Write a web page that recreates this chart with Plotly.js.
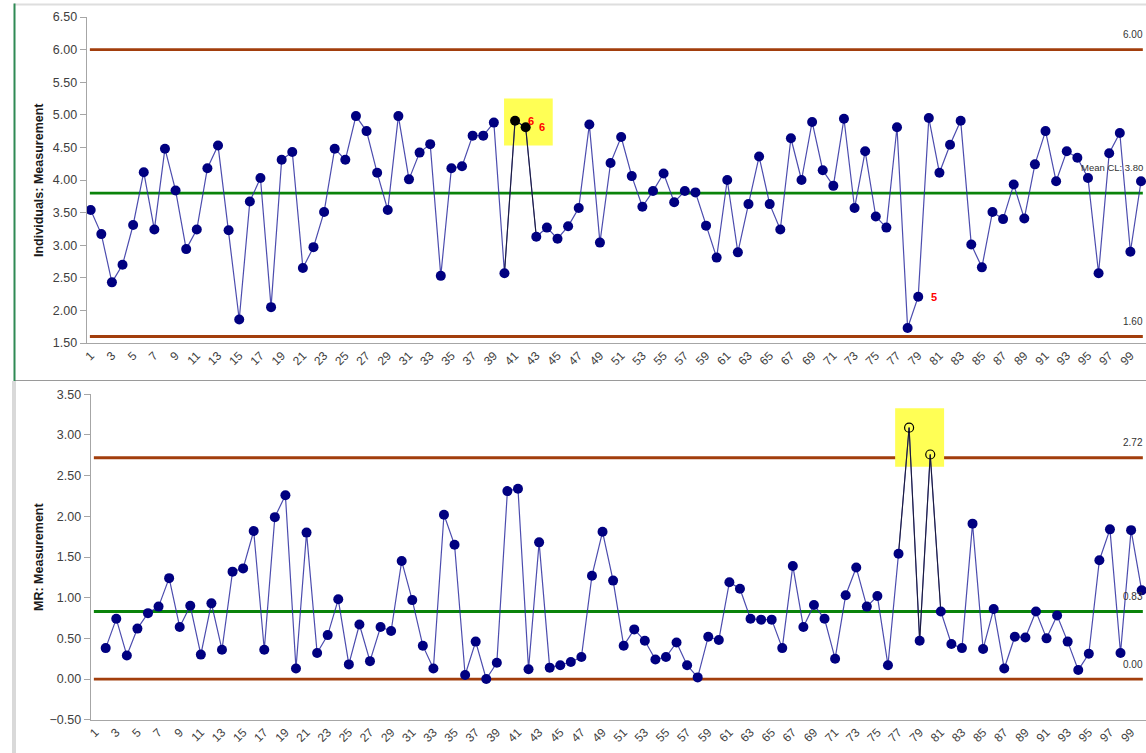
<!DOCTYPE html>
<html>
<head>
<meta charset="utf-8">
<script src="https://cdn.plot.ly/plotly-3.0.1.min.js"></script>
<style>
html,body{margin:0;padding:0;background:#fff;}
#chart{width:1146px;height:753px;}
</style>
</head>
<body>
<div id="chart"></div>
<script>
// ---------- data ----------
const obs = [1,2,3,4,5,6,7,8,9,10,11,12,13,14,15,16,17,18,19,20,21,22,23,24,25,26,27,28,29,30,
  31,32,33,34,35,36,37,38,39,40,41,42,43,44,45,46,47,48,49,50,51,52,53,54,55,56,57,58,59,60,
  61,62,63,64,65,66,67,68,69,70,71,72,73,74,75,76,77,78,79,80,81,82,83,84,85,86,87,88,89,90,
  91,92,93,94,95,96,97,98,99,100];
const individuals = [3.54,3.17,2.43,2.70,3.31,4.12,3.24,4.48,3.84,2.94,
  3.24,4.18,4.53,3.23,1.86,3.67,4.03,2.05,4.31,4.43,
  2.65,2.97,3.51,4.48,4.31,4.98,4.75,4.11,3.54,4.98,
  4.01,4.42,4.55,2.53,4.18,4.21,4.68,4.68,4.88,2.57,
  4.91,4.81,3.13,3.27,3.10,3.29,3.57,4.85,3.04,4.26,
  4.66,4.06,3.59,3.83,4.10,3.66,3.83,3.81,3.30,2.81,
  4.00,2.89,3.63,4.36,3.63,3.24,4.64,4.00,4.89,4.15,
  3.91,4.94,3.57,4.44,3.44,3.27,4.81,1.73,2.21,4.95,
  4.11,4.54,4.91,3.01,2.66,3.51,3.40,3.93,3.41,4.24,
  4.75,3.98,4.44,4.34,4.03,2.57,4.41,4.72,2.90,3.98];
const mrObs = [2,3,4,5,6,7,8,9,10,11,12,13,14,15,16,17,18,19,20,21,22,23,24,25,26,27,28,29,30,
  31,32,33,34,35,36,37,38,39,40,41,42,43,44,45,46,47,48,49,50,51,52,53,54,55,56,57,58,59,60,
  61,62,63,64,65,66,67,68,69,70,71,72,73,74,75,76,77,78,79,80,81,82,83,84,85,86,87,88,89,90,
  91,92,93,94,95,96,97,98,99,100];
const movingRange = [0.38,0.74,0.29,0.62,0.81,0.89,1.24,0.64,0.90,
  0.30,0.93,0.36,1.32,1.36,1.82,0.36,1.99,2.26,0.13,
  1.80,0.32,0.54,0.98,0.18,0.67,0.22,0.64,0.59,1.45,
  0.97,0.41,0.13,2.02,1.65,0.05,0.46,0.00,0.20,2.31,
  2.34,0.12,1.68,0.14,0.17,0.21,0.27,1.27,1.81,1.21,
  0.41,0.61,0.47,0.24,0.27,0.45,0.17,0.02,0.52,0.48,
  1.19,1.11,0.74,0.73,0.73,0.38,1.39,0.64,0.91,0.74,
  0.25,1.03,1.37,0.89,1.02,0.17,1.54,3.09,0.47,2.76,
  0.83,0.43,0.38,1.91,0.37,0.86,0.13,0.52,0.51,0.83,
  0.50,0.78,0.46,0.11,0.31,1.46,1.84,0.32,1.83,1.09];
const xTickVals = [1,3,5,7,9,11,13,15,17,19,21,23,25,27,29,31,33,35,37,39,41,43,45,47,49,
  51,53,55,57,59,61,63,65,67,69,71,73,75,77,79,81,83,85,87,89,91,93,95,97,99];
const xTickText = xTickVals.map(String);

const indUCL = 6.00, indCL = 3.80, indLCL = 1.60;
const mrUCL = 2.72, mrCL = 0.83, mrLCL = 0.00;

const indFlagObs = [41, 42, 79];
const indFlagRule = ['6', '6', '5'];
const indHighlightObs = [41, 42];
const mrHighlightObs = [78, 80];

// ---------- styles ----------
const FONT = 'Liberation Sans, Arial, sans-serif';
const NAVY = '#000080';
const LINE = 'rgba(45,45,160,0.85)';
const LIMIT = '#A23E0C';
const CENTER = '#0A830A';
const AXIS = '#a6a6a6';
const W = 1146, H = 753;

// ---------- traces ----------
const indColors = obs.map(o => indHighlightObs.includes(o) ? '#000000' : NAVY);
const mrSymbols = mrObs.map(o => mrHighlightObs.includes(o) ? 'circle-open' : 'circle');
const mrColors = mrObs.map(o => mrHighlightObs.includes(o) ? '#000000' : NAVY);
const mrLineW = mrObs.map(o => mrHighlightObs.includes(o) ? 1.2 : 0);
const mrSizes = mrObs.map(o => mrHighlightObs.includes(o) ? 9 : 10);

function segment(xs, ys, first, last) {
  const sx = [], sy = [];
  xs.forEach((x, i) => { if (x >= first - 1 && x <= last + 1) { sx.push(x); sy.push(ys[i]); } });
  return {sx, sy};
}
const indSeg = segment(obs, individuals, indHighlightObs[0], indHighlightObs[indHighlightObs.length-1]);
const mrSeg = segment(mrObs, movingRange, mrHighlightObs[0], mrHighlightObs[mrHighlightObs.length-1]);

const traces = [
  {x: obs, y: individuals, xaxis: 'x', yaxis: 'y', type: 'scatter', mode: 'lines',
   line: {color: LINE, width: 1.2}, hoverinfo: 'x+y'},
  {x: indSeg.sx, y: indSeg.sy, xaxis: 'x', yaxis: 'y', type: 'scatter', mode: 'lines',
   line: {color: 'rgba(20,20,40,0.9)', width: 1}, hoverinfo: 'skip'},
  {x: obs, y: individuals, xaxis: 'x', yaxis: 'y', type: 'scatter', mode: 'markers',
   marker: {color: indColors, size: 10, opacity: 1, line: {width: 0}}, hoverinfo: 'x+y'},
  {x: mrObs, y: movingRange, xaxis: 'x2', yaxis: 'y2', type: 'scatter', mode: 'lines',
   line: {color: LINE, width: 1.2}, hoverinfo: 'x+y'},
  {x: mrSeg.sx, y: mrSeg.sy, xaxis: 'x2', yaxis: 'y2', type: 'scatter', mode: 'lines',
   line: {color: 'rgba(20,20,40,0.9)', width: 1}, hoverinfo: 'skip'},
  {x: mrObs, y: movingRange, xaxis: 'x2', yaxis: 'y2', type: 'scatter', mode: 'markers',
   marker: {color: mrColors, symbol: mrSymbols, size: mrSizes, opacity: 1, line: {color: mrColors, width: mrLineW}},
   hoverinfo: 'x+y'}
];

// ---------- shapes ----------
const indHiVals = indHighlightObs.map(o => individuals[obs.indexOf(o)]);
const mrHiVals = mrHighlightObs.map(o => movingRange[mrObs.indexOf(o)]);
const shapes = [
  // highlight boxes
  {type: 'rect', xref: 'x', yref: 'y', layer: 'below',
   x0: indHighlightObs[0] - 1.04, x1: indHighlightObs[indHighlightObs.length-1] + 2.55,
   y0: Math.min(...indHiVals) - 0.28, y1: Math.max(...indHiVals) + 0.34,
   fillcolor: '#FFFF55', line: {width: 0}},
  {type: 'rect', xref: 'x2', yref: 'y2', layer: 'below',
   x0: mrHighlightObs[0] - 1.32, x1: mrHighlightObs[mrHighlightObs.length-1] + 1.31,
   y0: Math.min(...mrHiVals) - 0.15, y1: Math.max(...mrHiVals) + 0.24,
   fillcolor: '#FFFF55', line: {width: 0}},
  // limit lines
  {type: 'line', xref: 'x domain', yref: 'y', x0: 0.003, x1: 0.997, y0: indUCL, y1: indUCL, layer: 'below', line: {color: LIMIT, width: 2.8}},
  {type: 'line', xref: 'x domain', yref: 'y', x0: 0.003, x1: 0.997, y0: indCL, y1: indCL, layer: 'below', line: {color: CENTER, width: 2.8}},
  {type: 'line', xref: 'x domain', yref: 'y', x0: 0.003, x1: 0.997, y0: indLCL, y1: indLCL, layer: 'below', line: {color: LIMIT, width: 2.8}},
  {type: 'line', xref: 'x2 domain', yref: 'y2', x0: 0.003, x1: 0.997, y0: mrUCL, y1: mrUCL, layer: 'below', line: {color: LIMIT, width: 2.8}},
  {type: 'line', xref: 'x2 domain', yref: 'y2', x0: 0.003, x1: 0.997, y0: mrCL, y1: mrCL, layer: 'below', line: {color: CENTER, width: 2.8}},
  {type: 'line', xref: 'x2 domain', yref: 'y2', x0: 0.003, x1: 0.997, y0: mrLCL, y1: mrLCL, layer: 'below', line: {color: LIMIT, width: 2.8}},
  // panel frame
  {type: 'line', xref: 'paper', yref: 'paper', x0: 14/W, x1: 1, y0: 1 - 4.5/H, y1: 1 - 4.5/H, line: {color: '#dedede', width: 2}},
  {type: 'line', xref: 'paper', yref: 'paper', x0: 14/W, x1: 1, y0: 1 - 380.5/H, y1: 1 - 380.5/H, line: {color: '#9a9a9a', width: 1}},
  {type: 'rect', xref: 'paper', yref: 'paper', x0: 12/W, x1: 16/W, y0: 0, y1: 1 - 381/H, fillcolor: '#d9d9d9', line: {width: 0}},
  {type: 'line', xref: 'paper', yref: 'paper', x0: 14.5/W, x1: 14.5/W, y0: 1 - 381/H, y1: 1 - 3.5/H, line: {color: '#2f8a55', width: 2}}
];

// ---------- annotations ----------
const RIGHT = 1145 / W;
function limitLabel(yref, value, text, size, shift) {
  return {xref: 'paper', yref: yref, x: RIGHT, y: value, yshift: shift || 15, text: text, showarrow: false,
    xanchor: 'right', yanchor: 'middle', font: {family: FONT, size: size || 10, color: '#333'}};
}
const annotations = [
  {xref: 'paper', yref: 'paper', x: 39/W, y: 1 - 180/H, text: '<b>Individuals: Measurement</b>', textangle: -90,
   showarrow: false, xanchor: 'center', yanchor: 'middle', font: {family: FONT, size: 12.5, color: '#1a1a1a'}},
  {xref: 'paper', yref: 'paper', x: 39/W, y: 1 - 557/H, text: '<b>MR: Measurement</b>', textangle: -90,
   showarrow: false, xanchor: 'center', yanchor: 'middle', font: {family: FONT, size: 12.5, color: '#1a1a1a'}},
  limitLabel('y', indUCL, indUCL.toFixed(2)),
  limitLabel('y', indCL, 'Mean CL: ' + indCL.toFixed(2), 9.5, 26),
  limitLabel('y', indLCL, indLCL.toFixed(2)),
  limitLabel('y2', mrUCL, mrUCL.toFixed(2)),
  limitLabel('y2', mrCL, mrCL.toFixed(2)),
  limitLabel('y2', mrLCL, mrLCL.toFixed(2))
];
indFlagObs.forEach((o, i) => {
  annotations.push({xref: 'x', yref: 'y', x: o, y: individuals[obs.indexOf(o)], xshift: 16, text: '<b>' + indFlagRule[i] + '</b>',
    showarrow: false, xanchor: 'center', yanchor: 'middle', font: {family: FONT, size: 11, color: '#FF0000'}});
});

// ---------- axes ----------
const xCommon = {
  tickmode: 'array', tickvals: xTickVals, ticktext: xTickText, tickangle: -45,
  showline: true, linecolor: AXIS, linewidth: 1, ticks: '', showgrid: false, zeroline: false,
  tickfont: {family: FONT, size: 12, color: '#404040'}, automargin: false, fixedrange: true
};
const yCommon = {
  dtick: 0.5, tickformat: '.2f', ticks: 'outside', ticklen: 6, tickcolor: AXIS, tickwidth: 1,
  showline: true, linecolor: AXIS, linewidth: 1, showgrid: false, zeroline: false,
  tickfont: {family: FONT, size: 12.5, color: '#404040'}, automargin: false, fixedrange: true
};

const layout = {
  width: W, height: H,
  margin: {l: 0, r: 0, t: 0, b: 0},
  paper_bgcolor: '#ffffff', plot_bgcolor: 'rgba(0,0,0,0)',
  showlegend: false,
  font: {family: FONT},
  xaxis: Object.assign({}, xCommon, {domain: [86.7/W, 1], range: [0.623, 100.47], anchor: 'y'}),
  yaxis: Object.assign({}, yCommon, {domain: [1 - 343/H, 1 - 17/H], range: [1.5, 6.5], tick0: 1.5, anchor: 'x'}),
  xaxis2: Object.assign({}, xCommon, {domain: [90.7/W, 1], range: [0.581, 100.41], anchor: 'y2'}),
  yaxis2: Object.assign({}, yCommon, {domain: [1 - 719.7/H, 1 - 394.3/H], range: [-0.5, 3.5], tick0: -0.5, anchor: 'x2'}),
  shapes: shapes,
  annotations: annotations
};

Plotly.newPlot('chart', traces, layout, {displayModeBar: false, staticPlot: true});
</script>
</body>
</html>
